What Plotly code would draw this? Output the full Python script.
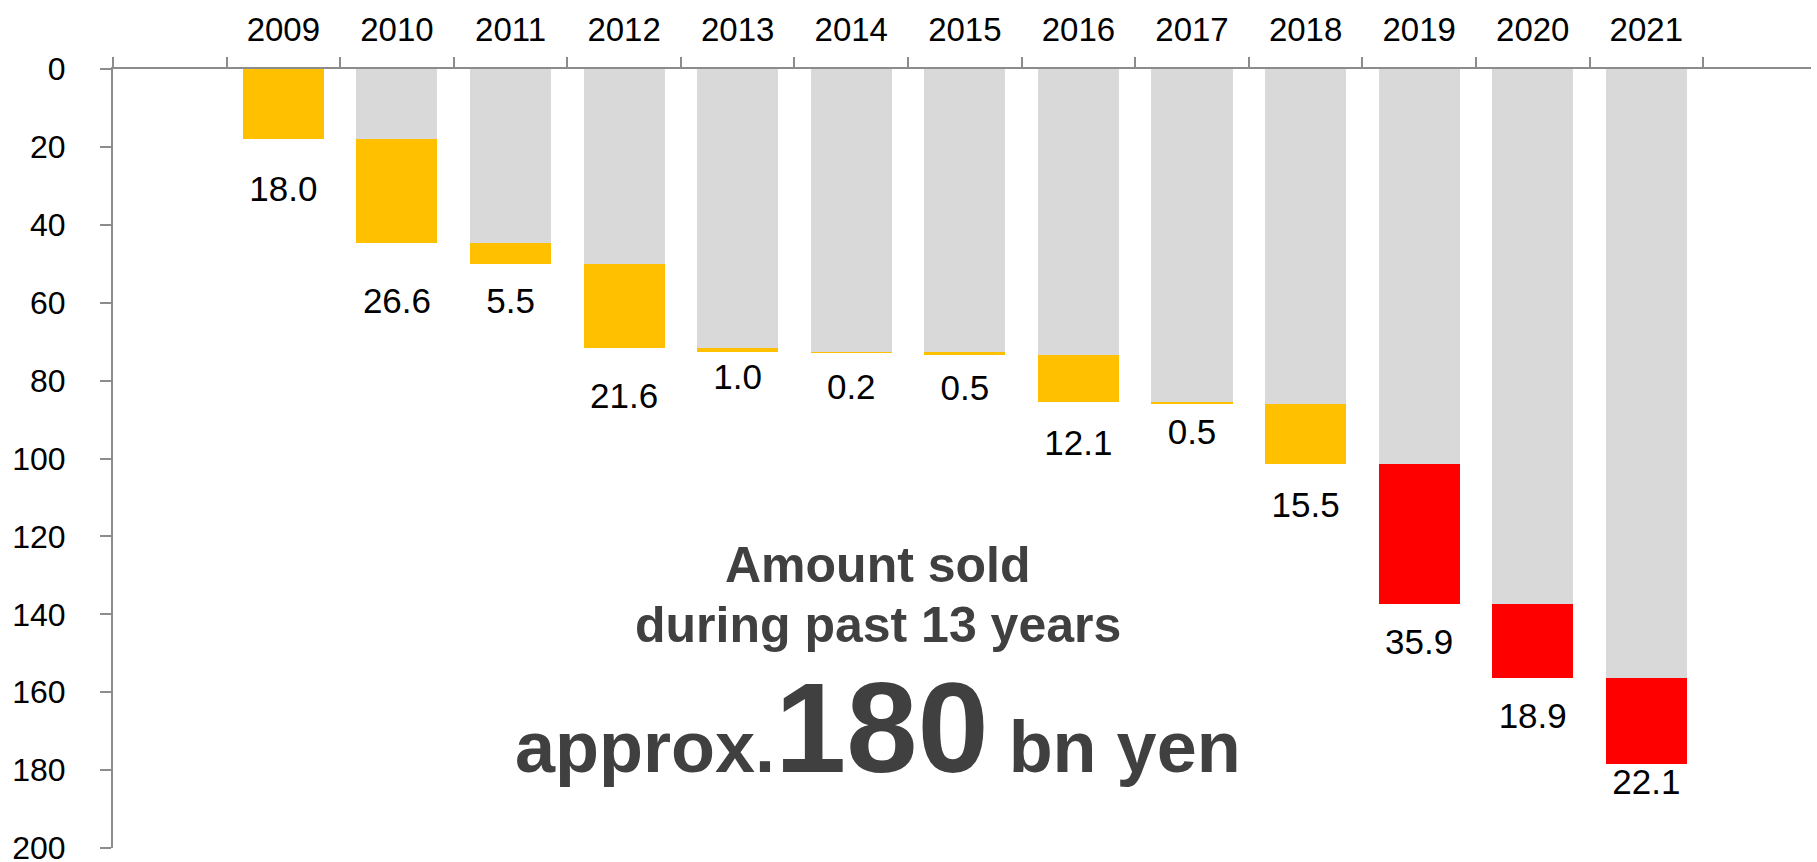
import plotly.graph_objects as go

# Annual amounts sold (bn yen), 2009-2021
years = ["2009", "2010", "2011", "2012", "2013", "2014", "2015",
         "2016", "2017", "2018", "2019", "2020", "2021"]
sold = [18.0, 26.6, 5.5, 21.6, 1.0, 0.2, 0.5, 12.1, 0.5, 15.5, 35.9, 18.9, 22.1]
recent_years = ["2019", "2020", "2021"]

# Where each value label sits on the value axis
label_pos = [31.6, 60.3, 60.3, 84.7, 80.0, 82.6, 82.7, 96.8, 94.0, 112.8, 147.9, 166.9, 183.8]

y_ticks = list(range(0, 201, 20))

# running totals: gray bar = sold before the year, coloured bar = sold that year
prior = []
total = 0.0
for v in sold:
    prior.append(total)
    total += v

xs = list(range(1, len(years) + 1))
YELLOW, RED, GRAY = "#FFC000", "#FF0000", "#D9D9D9"
colors = [RED if y in recent_years else YELLOW for y in years]
AXIS = "#8C8C8C"
FONT = "Liberation Sans, Arial, sans-serif"
TEXT = "#404040"

fig = go.Figure()
fig.add_trace(go.Bar(
    x=xs, y=prior, base=0, width=0.714,
    marker=dict(color=GRAY, line=dict(width=0)),
    hoverinfo="skip", showlegend=False,
))
fig.add_trace(go.Bar(
    x=xs, y=sold, base=prior, width=0.714,
    marker=dict(color=colors, line=dict(width=0)),
    hoverinfo="skip", showlegend=False,
))
fig.add_trace(go.Scatter(
    x=xs, y=label_pos, mode="text",
    text=[f"{v:.1f}" for v in sold],
    textposition="middle center",
    textfont=dict(family=FONT, size=35, color="#000000"),
    hoverinfo="skip", showlegend=False,
))

# summary text in the empty lower-left area
for line, ypos in (("Amount sold", 0.3248), ("during past 13 years", 0.2478)):
    fig.add_annotation(
        xref="paper", yref="paper", x=0.4505, y=ypos,
        xanchor="center", yanchor="bottom",
        text=f"<b>{line}</b>",
        showarrow=False, align="center",
        font=dict(family=FONT, size=50, color=TEXT),
    )
fig.add_annotation(
    xref="paper", yref="paper", x=0.4505, y=0.06,
    xanchor="center", yanchor="bottom",
    text="<b>approx.<span style='font-size:128px'>180</span> bn yen</b>",
    showarrow=False, align="center",
    font=dict(family=FONT, size=72, color=TEXT),
)

fig.update_layout(
    width=1817, height=862,
    margin=dict(l=113, r=6, t=69, b=14, autoexpand=False),
    paper_bgcolor="white", plot_bgcolor="white",
    barmode="overlay", bargap=0,
    font=dict(family=FONT, color="#000000"),
)
fig.update_xaxes(
    type="linear", range=[-0.5, 14.45], side="top",
    tickvals=xs, ticktext=years, ticks="", ticklen=0,
    tickfont=dict(family=FONT, size=33, color="#000000"),
    ticklabelstandoff=13,
    minor=dict(tick0=0.5, dtick=1, ticks="outside", ticklen=10,
               tickwidth=2, tickcolor=AXIS, showgrid=False),
    showline=True, linecolor=AXIS, linewidth=2,
    showgrid=False, zeroline=False, automargin=False, fixedrange=True,
)
fig.update_yaxes(
    range=[200, 0], tickvals=y_ticks,
    ticks="outside", ticklen=11, tickwidth=2, tickcolor=AXIS,
    tickfont=dict(family=FONT, size=32, color="#000000"),
    ticklabelstandoff=28, ticklabeloverflow="allow",
    showline=True, linecolor=AXIS, linewidth=2,
    showgrid=False, zeroline=False, automargin=False, fixedrange=True,
)

fig.write_html("out.html", config={"displayModeBar": False})
